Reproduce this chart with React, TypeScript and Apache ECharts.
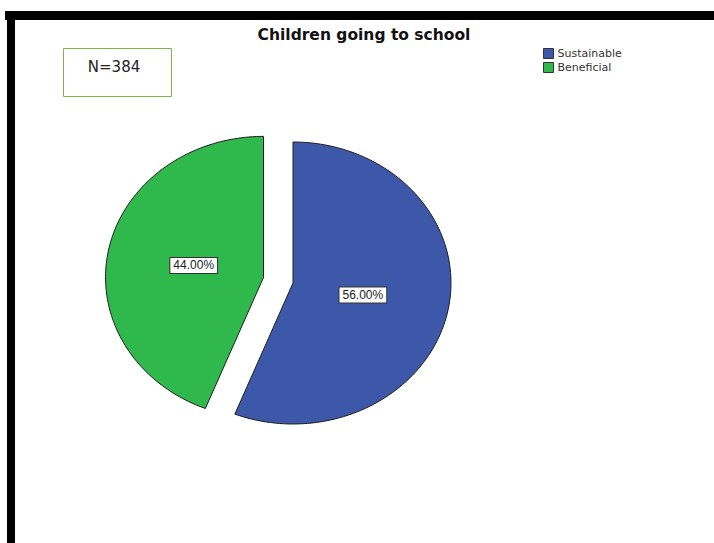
import React, { useEffect, useRef } from "react";
import * as echarts from "echarts";

const categories = ["Sustainable", "Beneficial"];
const values = [56, 44];
const colors = ["#3d58a9", "#2fb84b"];
const exploded = [false, true];
const titleText = "Children going to school";
const noteText = "N=384";

// layout (pixels)
const CX = 293;
const CY = 283;
const RX = 158;
const RY = 141;
const EXPLODE = 30;
const LABEL_RATIO = 0.45;

export default function App() {
  const ref = useRef<HTMLDivElement>(null);
  useEffect(() => {
    if (!ref.current) return;
    const chart = echarts.init(ref.current, null, { renderer: "svg" });
    const total = values.reduce((a, b) => a + b, 0);

    const makeRender = (idx: number) => (params: any, api: any) => {
      const v = api.value(0);
      let before = 0;
      for (let i = 0; i < idx; i++) before += values[i];
      // angles measured clockwise from 12 o'clock
      const a0 = (before / total) * Math.PI * 2;
      const a1 = ((before + v) / total) * Math.PI * 2;
      const mid = (a0 + a1) / 2;
      let cx = CX;
      let cy = CY;
      if (exploded[idx]) {
        cx += Math.sin(mid) * EXPLODE;
        cy -= Math.cos(mid) * EXPLODE;
      }
      const pts: number[][] = [[cx, cy]];
      const steps = 120;
      for (let s = 0; s <= steps; s++) {
        const a = a0 + ((a1 - a0) * s) / steps;
        pts.push([cx + Math.sin(a) * RX, cy - Math.cos(a) * RY]);
      }
      const lx = cx + Math.sin(mid) * RX * LABEL_RATIO;
      const ly = cy - Math.cos(mid) * RY * LABEL_RATIO;
      return {
        type: "group",
        children: [
          {
            type: "polygon",
            shape: { points: pts },
            style: { fill: colors[idx], stroke: "#1e1e1e", lineWidth: 1 },
          },
          {
            type: "text",
            x: lx,
            y: ly,
            style: {
              text: v.toFixed(2) + "%",
              fontFamily: "Liberation Sans, Arial, sans-serif",
              fontSize: 12,
              fill: "#222",
              align: "center",
              verticalAlign: "middle",
              backgroundColor: "#ffffff",
              borderColor: "#333",
              borderWidth: 1,
              padding: [2, 3, 1, 3],
            },
          },
        ],
      };
    };

    chart.setOption({
      animation: false,
      backgroundColor: "#ffffff",
      title: {
        text: titleText,
        left: 364,
        top: 27,
        padding: 0,
        textAlign: "center",
        textStyle: {
          fontFamily: "DejaVu Sans, sans-serif",
          fontWeight: "bold",
          fontSize: 15.5,
          color: "#111",
        },
      },
      legend: {
        orient: "vertical",
        left: 543,
        top: 48,
        padding: 0,
        itemWidth: 10,
        itemHeight: 10,
        itemGap: 3,
        icon: "rect",
        data: categories,
        textStyle: {
          fontFamily: "DejaVu Sans, sans-serif",
          fontSize: 11,
          color: "#333",
          padding: [0, 0, 0, -1],
        },
        itemStyle: { borderColor: "#333", borderWidth: 1 },
      },
      graphic: [
        { type: "rect", shape: { x: 5, y: 11, width: 709, height: 9 }, style: { fill: "#000" } },
        { type: "rect", shape: { x: 7, y: 11, width: 8, height: 532 }, style: { fill: "#000" } },
        {
          type: "rect",
          shape: { x: 63.5, y: 48.5, width: 108, height: 48 },
          style: { fill: "#fff", stroke: "#7ab648", lineWidth: 1 },
        },
        {
          type: "text",
          x: 114,
          y: 67,
          style: {
            text: noteText,
            fontFamily: "DejaVu Sans, sans-serif",
            fontSize: 15,
            fill: "#222",
            align: "center",
            verticalAlign: "middle",
          },
        },
      ],
      series: categories.map((c, i) => ({
        type: "custom",
        name: c,
        coordinateSystem: "none",
        itemStyle: { color: colors[i] },
        renderItem: makeRender(i),
        data: [[values[i]]],
      })),
    });
    return () => chart.dispose();
  }, []);
  return (
    <div
      ref={ref}
      style={{ position: "fixed", left: 0, top: 0, width: 714, height: 543 }}
    />
  );
}
